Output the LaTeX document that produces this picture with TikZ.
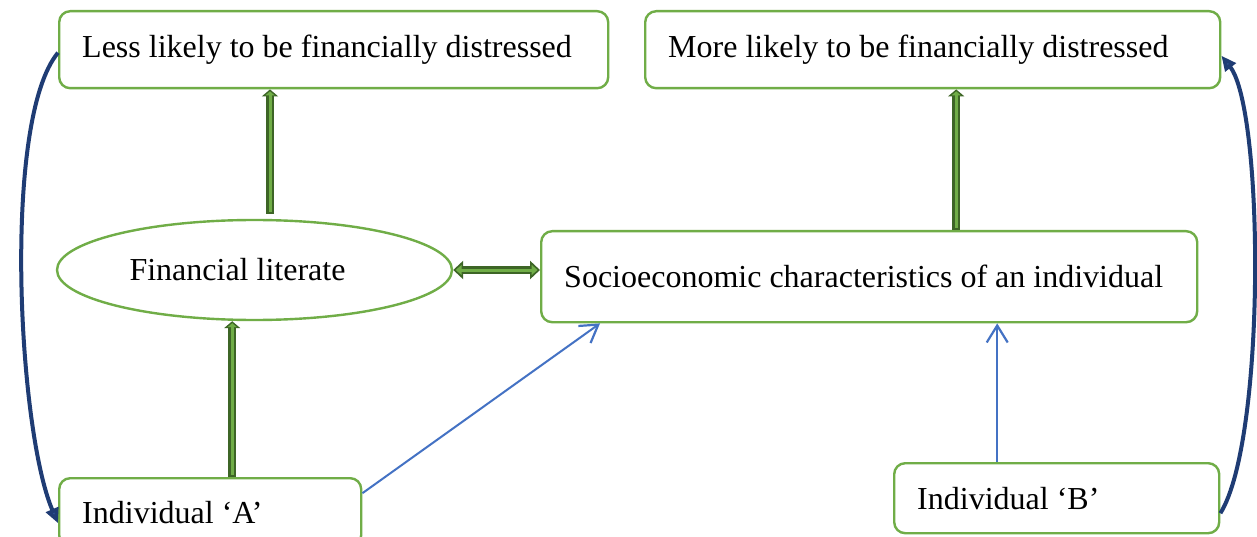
\documentclass[tikz,border=0pt]{standalone}
\usepackage{fontspec}
\setmainfont{Liberation Serif}
\usetikzlibrary{arrows.meta,shapes.geometric}
\definecolor{boxgreen}{HTML}{70AD47}
\definecolor{dkgreen}{HTML}{3D6526}
\definecolor{navy}{HTML}{1F3C74}
\definecolor{headblue}{HTML}{2F5597}
\definecolor{linkblue}{HTML}{4472C4}
\begin{document}
\begin{tikzpicture}[x=1pt,y=-1pt,
  box/.style={draw=boxgreen, line width=2.4pt, rounded corners=11pt, anchor=north west,
    inner xsep=23pt, inner ysep=0pt, align=flush left, font=\fontsize{32}{38}\selectfont},
  gout/.style={draw=dkgreen, line width=8pt},
  gin/.style={draw=boxgreen, line width=3pt},
  thinblue/.style={draw=linkblue, line width=2pt, -{Straight Barb[length=17pt,width=21pt,line width=2.2pt]}},
  curved/.style={draw=navy, line width=4pt, -{Triangle[length=15pt,width=13pt,fill=headblue]}}
]
\useasboundingbox (0,0) rectangle (1257,537);
\fill[white] (0,0) rectangle (1257,537);

\node[box, minimum width=549pt, minimum height=77pt, text width=503pt] (b1) at (58,10)
  {Less likely to be financially distressed};
\node[box, minimum width=575pt, minimum height=77pt, text width=529pt] (b2) at (644,10)
  {More likely to be financially distressed};
\node[box, minimum width=656pt, minimum height=91pt, text width=610pt] (b3) at (540,230)
  {Socioeconomic characteristics of an individual};
\node[box, minimum width=302pt, minimum height=68pt, text width=256pt] (b4) at (58,477)
  {Individual ‘A’};
\node[box, minimum width=325pt, minimum height=70pt, text width=279pt] (b5) at (893,462)
  {Individual ‘B’};
\node[ellipse, draw=boxgreen, line width=2.4pt, minimum width=395pt, minimum height=100pt,
  inner sep=0pt, text width=250pt, align=flush left, font=\fontsize{32}{38}\selectfont] (fl) at (254.5,270)
  {Financial literate};

% green block arrows
\coordinate (g1s) at ([xshift=15.5pt,yshift=5pt]fl.north);
\coordinate (g1e) at (g1s |- b1.south);
\draw[gout, -{Triangle[length=7pt,width=16pt]}] (g1s) -- (g1e);
\draw[gin, shorten <=2pt, -{Triangle[length=4pt,width=9pt]}, shorten >=2pt] (g1s) -- (g1e);

\coordinate (g2s) at ([xshift=22pt]b4.north);
\coordinate (g2e) at (g2s |- fl.south);
\draw[gout, -{Triangle[length=7pt,width=16pt]}] (g2s) -- (g2e);
\draw[gin, shorten <=2pt, -{Triangle[length=4pt,width=9pt]}, shorten >=2pt] (g2s) -- (g2e);

\coordinate (g3s) at ([xshift=87pt]b3.north);
\coordinate (g3e) at (g3s |- b2.south);
\draw[gout, -{Triangle[length=7pt,width=16pt]}] (g3s) -- (g3e);
\draw[gin, shorten <=2pt, -{Triangle[length=4pt,width=9pt]}, shorten >=2pt] (g3s) -- (g3e);

\coordinate (g4e) at (fl.east -| b3.west);
\draw[gout, {Triangle[length=10pt,width=18pt]}-{Triangle[length=10pt,width=18pt]}] (fl.east) -- (g4e);
\draw[gin, shorten <=2.5pt, shorten >=2.5pt, {Triangle[length=6pt,width=10pt]}-{Triangle[length=6pt,width=10pt]}] (fl.east) -- (g4e);

% thin blue arrows
\draw[thinblue] ([yshift=19pt]b4.east) -- ([xshift=60pt]b3.south west);
\coordinate (b5t) at ([xshift=-59.5pt]b5.north);
\draw[thinblue] (b5t) -- (b5t |- b3.south);

% curved arrows
\draw[curved] ([yshift=-3pt]b1.west) .. controls (2,120) and (18,430) .. ([yshift=-11pt]b4.west);
\draw[curved] ([yshift=-15pt]b5.east) .. controls (1266,440) and (1264,110) .. ([yshift=-6pt]b2.east);
\end{tikzpicture}
\end{document}
